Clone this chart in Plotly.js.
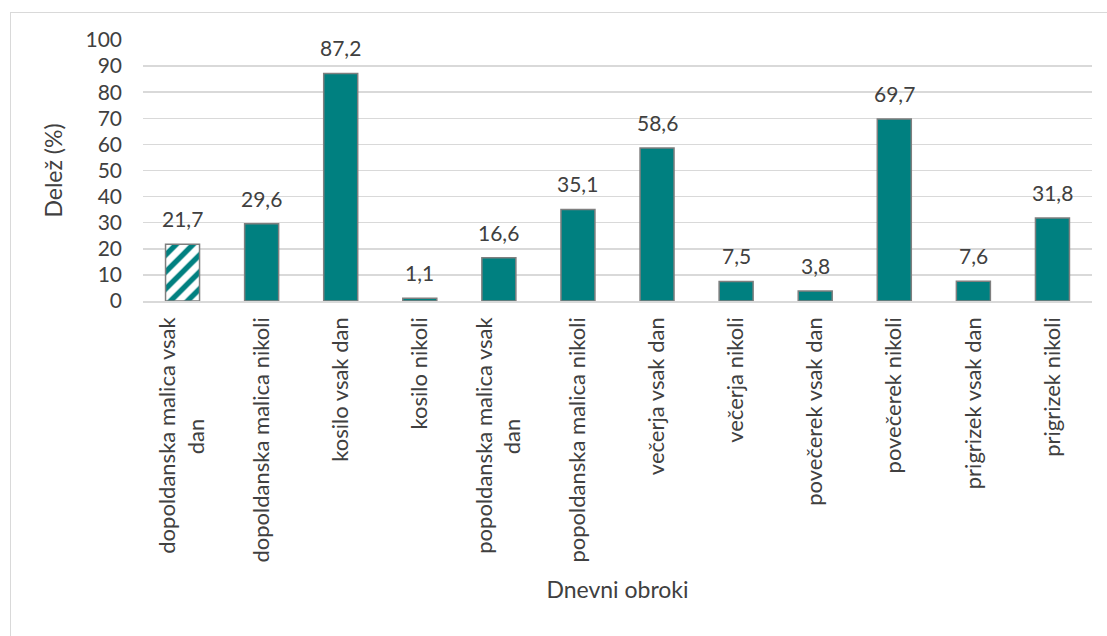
<!DOCTYPE html>
<html>
<head>
<meta charset="utf-8">
<script src="https://cdn.plot.ly/plotly-3.0.1.min.js"></script>
<style>
  html, body { margin: 0; padding: 0; background: #ffffff; overflow: hidden; }
  #frame { position: absolute; left: 10px; top: 12px; width: 1200px; height: 700px; border: 1.5px solid #d9d9d9; box-sizing: border-box; }
  #chart { position: absolute; left: 0; top: 0; width: 1107px; height: 636px; }
</style>
</head>
<body>
<div id="frame"></div>
<div id="chart"></div>
<script>
const categories = [
  "dopoldanska malica vsak<br>dan",
  "dopoldanska malica nikoli",
  "kosilo vsak dan",
  "kosilo nikoli",
  "popoldanska malica vsak<br>dan",
  "popoldanska malica nikoli",
  "večerja vsak dan",
  "večerja nikoli",
  "povečerek vsak dan",
  "povečerek nikoli",
  "prigrizek vsak dan",
  "prigrizek nikoli"
];
const values = [21.7, 29.6, 87.2, 1.1, 16.6, 35.1, 58.6, 7.5, 3.8, 69.7, 7.6, 31.8];
const hatched = [true, false, false, false, false, false, false, false, false, false, false, false];
const yTicks = [0, 10, 20, 30, 40, 50, 60, 70, 80, 90, 100];

const teal = "#008080";
const font = "Lato, 'Open Sans', sans-serif";

// centre the wrapped second line of the rotated tick labels
const pad = "\u00a0".repeat(18);
const tickText = categories.map(c => c.includes("<br>") ? c + pad : c);

const trace = {
  type: "bar",
  x: categories,
  y: values,
  width: 0.43,
  marker: {
    color: teal,
    line: { color: "#7f7f7f", width: 1.5 },
    pattern: {
      shape: hatched.map(h => h ? "/" : ""),
      bgcolor: "#ffffff",
      fgcolor: teal,
      fgopacity: 1,
      size: 12,
      solidity: 0.45,
      fillmode: "replace"
    }
  },
  hoverinfo: "x+y"
};

const annotations = categories.map((c, i) => ({
  x: c,
  y: values[i],
  xref: "x",
  yref: "y",
  text: values[i].toFixed(1).replace(".", ","),
  showarrow: false,
  yanchor: "bottom",
  yshift: 11,
  font: { family: font, size: 21, color: "#404040" }
}));

const layout = {
  width: 1107,
  height: 636,
  margin: { l: 143, r: 15, t: 40, b: 335, pad: 0 },
  paper_bgcolor: "rgba(0,0,0,0)",
  plot_bgcolor: "rgba(0,0,0,0)",
  separators: ",.",
  showlegend: false,
  bargap: 0.57,
  font: { family: font, size: 21, color: "#595959" },
  xaxis: {
    type: "category",
    tickvals: categories,
    ticktext: tickText,
    tickangle: -90,
    ticks: "",
    showgrid: false,
    showline: true,
    linecolor: "#d9d9d9",
    linewidth: 1.5,
    tickfont: { family: font, size: 22, color: "#404040" },
    ticklabelstandoff: 6,
    title: { text: "Dnevni obroki", font: { family: font, size: 23, color: "#404040" }, standoff: 20 },
    automargin: false
  },
  yaxis: {
    range: [0, 100],
    tickvals: yTicks,
    ticktext: yTicks.map(String),
    ticks: "",
    showgrid: true,
    gridcolor: "#d9d9d9",
    gridwidth: 1.5,
    zeroline: false,
    showline: false,
    tickfont: { family: font, size: 21, color: "#404040" },
    ticklabelstandoff: 20,
    title: { text: "Delež (%)", font: { family: font, size: 23, color: "#404040" }, standoff: 16 },
    automargin: false
  },
  annotations: annotations
};

Plotly.newPlot("chart", [trace], layout, { displayModeBar: false, staticPlot: true });
</script>
</body>
</html>
